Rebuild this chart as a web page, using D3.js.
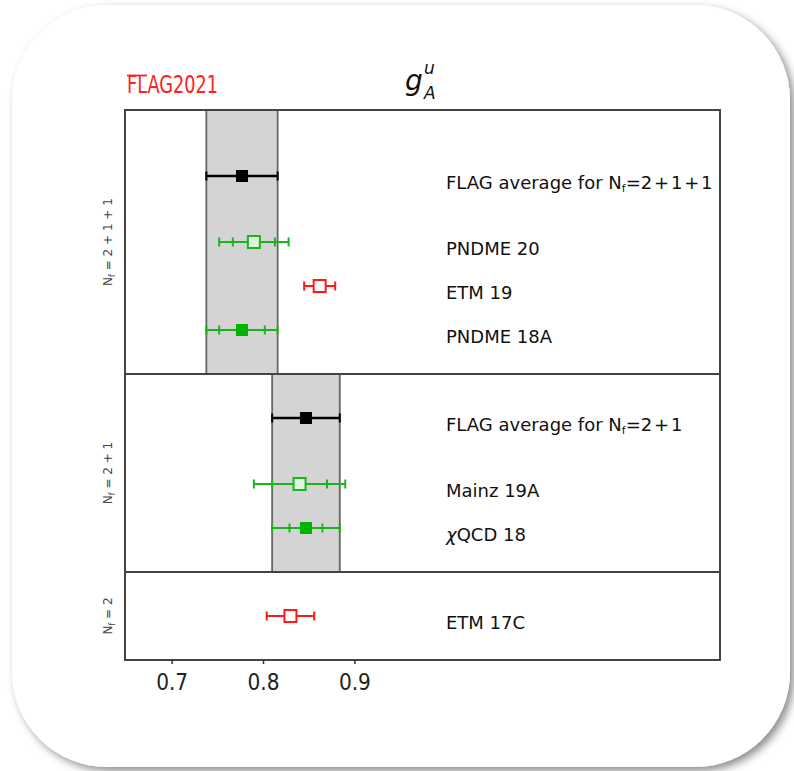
<!DOCTYPE html>
<html>
<head>
<meta charset="utf-8">
<script src="https://cdn.jsdelivr.net/npm/d3@7"></script>
<style>
  body { margin: 0; background: #fff; }
  text { font-family: "DejaVu Sans", sans-serif; }
</style>
</head>
<body>
<svg id="chart" width="794" height="771"></svg>
<script>
// results for g_A^u, top to bottom
const labels = ["FLAG average for N_f=2+1+1", "PNDME 20", "ETM 19", "PNDME 18A",
                "FLAG average for N_f=2+1", "Mainz 19A", "χQCD 18", "ETM 17C"];
const values = [0.777, 0.790, 0.862, 0.777, 0.847, 0.84, 0.847, 0.830];
const statErr = [null, 0.023, null, 0.025, null, 0.030, 0.018, null];
const totErr = [0.039, 0.038, 0.017, 0.039, 0.037, 0.050, 0.037, 0.026];
const kinds = ["avg", "greenOpen", "redOpen", "greenFilled", "avg", "greenOpen", "greenFilled", "redOpen"];
const rows = [11, 9.5, 8.5, 7.5, 5.5, 4, 3, 1];

// flavour panels
const panelNames = ["2+1+1", "2+1", "2"];
const panelTop = [12.5, 6.5, 2];
const panelBottom = [6.5, 2, 0];
const bandValue = [0.777, 0.847, null];
const bandErr = [0.039, 0.037, null];

const xTicks = [0.7, 0.8, 0.9];

const svg = d3.select("#chart");

// card with shadow
const defs = svg.append("defs");
const f = defs.append("filter").attr("id", "shadow")
  .attr("x", "-5%").attr("y", "-5%").attr("width", "110%").attr("height", "110%");
f.append("feDropShadow")
  .attr("dx", 4).attr("dy", 4).attr("stdDeviation", 4)
  .attr("flood-color", "#000").attr("flood-opacity", 0.45);

svg.append("rect")
  .attr("x", 12).attr("y", 5)
  .attr("width", 778).attr("height", 762)
  .attr("rx", 95).attr("ry", 95)
  .attr("fill", "#fff")
  .attr("filter", "url(#shadow)");

const plotLeft = 125, plotRight = 720, plotTop = 110, plotBottom = 660;

const x = d3.scaleLinear().domain([0.649, 1.3]).range([plotLeft, plotRight]);
const y = d3.scaleLinear().domain([0, 12.5]).range([plotBottom, plotTop]);

const green = "#1cb41c";
const colorOf = k => k === "avg" ? "#000" : (k === "redOpen" ? "#ff1a1a" : green);

// grey average bands
panelNames.forEach((p, i) => {
  if (bandValue[i] == null) return;
  svg.append("rect")
    .attr("x", x(bandValue[i] - bandErr[i]))
    .attr("y", y(panelTop[i]))
    .attr("width", x(bandValue[i] + bandErr[i]) - x(bandValue[i] - bandErr[i]))
    .attr("height", y(panelBottom[i]) - y(panelTop[i]))
    .attr("fill", "#d4d4d4")
    .attr("stroke", "#666")
    .attr("stroke-width", 1.8);
});

// panel separators and frame
panelTop.slice(1).forEach(t => {
  svg.append("line")
    .attr("x1", plotLeft).attr("x2", plotRight)
    .attr("y1", y(t)).attr("y2", y(t))
    .attr("stroke", "#444").attr("stroke-width", 2);
});
svg.append("rect")
  .attr("x", plotLeft).attr("y", plotTop)
  .attr("width", plotRight - plotLeft).attr("height", plotBottom - plotTop)
  .attr("fill", "none")
  .attr("stroke", "#444").attr("stroke-width", 2);

// panel labels
panelNames.forEach((p, i) => {
  const cy = (y(panelTop[i]) + y(panelBottom[i])) / 2;
  const t = svg.append("text")
    .attr("transform", `translate(112,${cy}) rotate(-90)`)
    .attr("text-anchor", "middle")
    .attr("font-size", 12)
    .attr("fill", "#444");
  t.append("tspan").text("N");
  t.append("tspan").attr("font-size", 8).attr("dy", 3).text("f");
  t.append("tspan").attr("dy", -3).text(" = " + p.split("+").join(" + "));
});

// error bars and markers
const pts = svg.selectAll(".pt")
  .data(values.map((v, i) => ({ v, i })))
  .enter().append("g")
  .attr("class", "pt")
  .attr("transform", d => `translate(0,${y(rows[d.i])})`);

pts.append("line")
  .attr("x1", d => x(d.v - totErr[d.i]))
  .attr("x2", d => x(d.v + totErr[d.i]))
  .attr("stroke", d => colorOf(kinds[d.i]))
  .attr("stroke-width", d => kinds[d.i] === "avg" ? 2.6 : 2);

pts.each(function(d) {
  const g = d3.select(this);
  const c = colorOf(kinds[d.i]);
  const caps = [d.v - totErr[d.i], d.v + totErr[d.i]];
  if (statErr[d.i] != null) caps.push(d.v - statErr[d.i], d.v + statErr[d.i]);
  caps.forEach(cv => {
    g.append("line")
      .attr("x1", x(cv)).attr("x2", x(cv))
      .attr("y1", -4.5).attr("y2", 4.5)
      .attr("stroke", c).attr("stroke-width", 2);
  });
});

pts.append("rect")
  .attr("x", d => x(d.v) - 6)
  .attr("y", -6)
  .attr("width", 12).attr("height", 12)
  .attr("fill", d => {
    const k = kinds[d.i];
    if (k === "avg") return "#000";
    if (k === "greenFilled") return "#00b400";
    if (k === "greenOpen") return "#dcf5dc";
    return "#fff";
  })
  .attr("stroke", d => colorOf(kinds[d.i]))
  .attr("stroke-width", d => kinds[d.i] === "avg" || kinds[d.i] === "greenFilled" ? 0 : 2);

// result labels
labels.forEach((l, i) => {
  const t = svg.append("text")
    .attr("x", 446).attr("y", y(rows[i]) + 13)
    .attr("font-size", 18)
    .attr("fill", "#111");
  if (l.includes("N_f")) {
    const [head, tail] = l.split("N_f");
    t.append("tspan").text(head + "N");
    t.append("tspan").attr("font-size", 11).attr("dy", 3).text("f");
    t.append("tspan").attr("dy", -3).text(tail.replace(/\+/g, "\u200A+\u200A"));
  } else if (l.startsWith("χ")) {
    t.append("tspan").attr("font-style", "italic").text("χ");
    t.append("tspan").text(l.slice(1));
  } else {
    t.text(l);
  }
});

// x axis
const axis = svg.append("g")
  .attr("transform", `translate(0,${plotBottom})`)
  .call(d3.axisBottom(x).tickValues(xTicks).tickSize(4).tickPadding(10).tickFormat(d3.format(".1f")));
axis.select(".domain").remove();
axis.selectAll(".tick line").attr("stroke", "#333").attr("stroke-width", 1.5);
axis.selectAll(".tick text")
  .attr("font-family", "DejaVu Sans, sans-serif")
  .attr("font-size", 23)
  .attr("fill", "#222")
  .attr("textLength", 32)
  .attr("lengthAdjust", "spacingAndGlyphs");

// heading
svg.append("text")
  .attr("x", 127).attr("y", 93)
  .attr("font-size", 24)
  .attr("fill", "#ff2020")
  .attr("textLength", 91)
  .attr("lengthAdjust", "spacingAndGlyphs")
  .text("FLAG2021");
svg.append("line")
  .attr("x1", 127).attr("x2", 147)
  .attr("y1", 75.5).attr("y2", 75.5)
  .attr("stroke", "#ff2020").attr("stroke-width", 1.8);

const title = svg.append("g").attr("font-style", "italic").attr("fill", "#111");
title.append("text").attr("x", 405).attr("y", 90).attr("font-size", 28).text("g");
title.append("text").attr("x", 424).attr("y", 99).attr("font-size", 17).text("A");
title.append("text").attr("x", 424).attr("y", 74).attr("font-size", 17).text("u");
</script>
</body>
</html>
